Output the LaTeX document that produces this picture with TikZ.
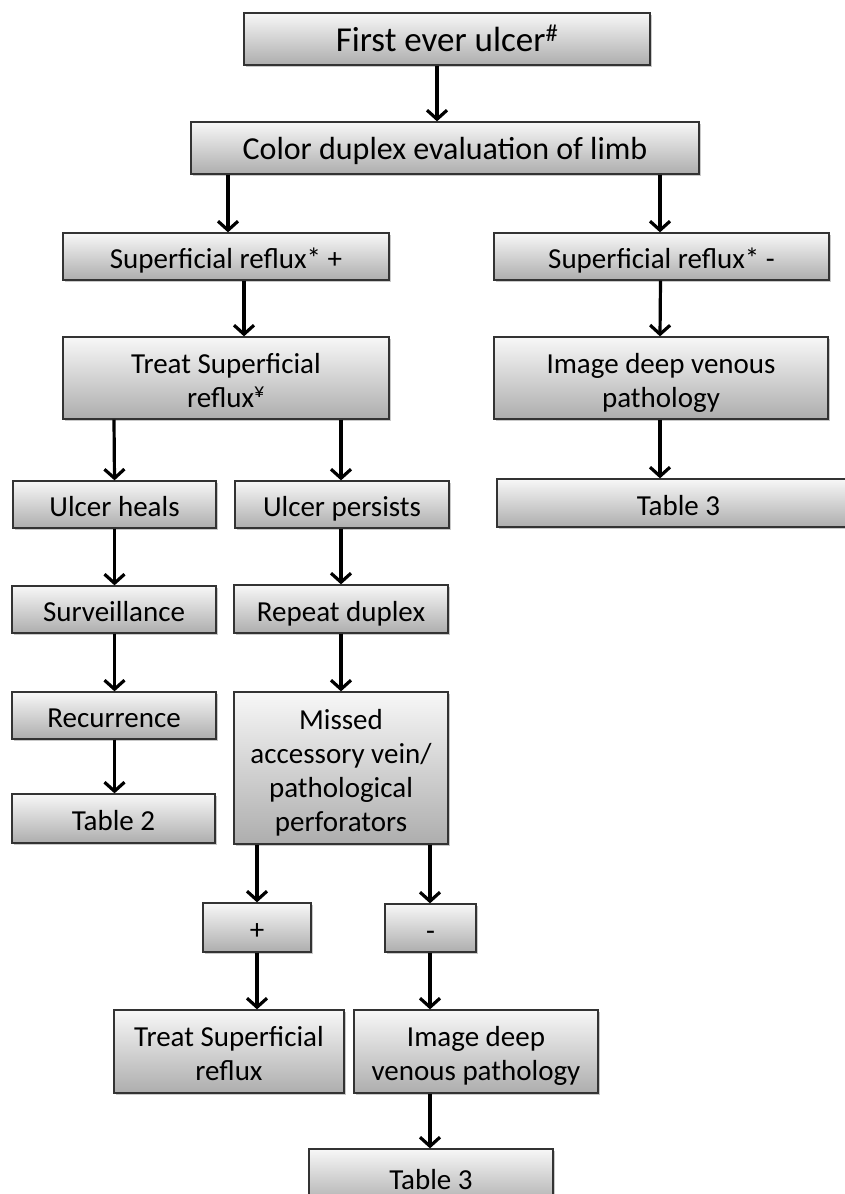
\documentclass[tikz,border=0pt]{standalone}
\usepackage{fontspec}
\setmainfont{Carlito}
\usetikzlibrary{arrows.meta,shadows}
\newcommand{\mystrut}{\rule[-5pt]{0pt}{34pt}}
\tikzset{
  box/.style={draw=black!80, line width=1.3pt, align=center, inner sep=0pt,
    top color=black!3, bottom color=black!32,
    drop shadow={shadow xshift=1.5pt, shadow yshift=-2pt, opacity=0.35, fill=black!60},
    font=\fontsize{29}{34}\selectfont},
  arr/.style={line width=3.2pt, -{Straight Barb[length=9pt,width=20pt,line width=3.2pt]}}
}
\newcommand{\bx}[7][]{\node[box, minimum width=#5pt, minimum height=#6pt, #1] (#2) at (#3,#4) {\mystrut #7\mystrut};}
\begin{document}
\begin{tikzpicture}[x=1pt,y=-1pt]
\fill[white] (0,0) rectangle (844,1194);
\useasboundingbox (0,0) rectangle (844,1194);
\bx[font=\fontsize{35}{40}\selectfont]{first}{447}{39}{406}{52}{First ever ulcer\textsuperscript{\#}}
\bx[font=\fontsize{32}{36}\selectfont]{color}{445}{148}{508}{52}{Color duplex evaluation of limb}
\bx{sp}{226}{256.5}{326}{47}{Superficial reflux* +}
\bx{sm}{661.5}{256.5}{335}{47}{Superficial reflux* -}
\bx{treat}{226}{378}{326}{82}{Treat Superficial\\reflux\textsuperscript{¥}}
\bx{imgR}{661}{378}{334}{82}{Image deep venous\\pathology}
\bx{tabR}{678.5}{503}{363}{48}{Table 3}
\bx{heal}{114.5}{504.5}{203}{47}{Ulcer heals}
\bx{pers}{342}{504.5}{214}{47}{Ulcer persists}
\bx{surv}{114}{609.5}{204}{47}{Surveillance}
\bx{rep}{341}{609}{214}{48}{Repeat duplex}
\bx{rec}{114}{715.5}{204}{47}{Recurrence}
\bx{miss}{341}{768}{214}{152}{Missed\\accessory vein/\\pathological\\perforators}
\bx{tabtwo}{113.5}{818.5}{203}{49}{Table 2}
\bx{plus}{257}{927.5}{108}{49}{+}
\bx{minus}{430.5}{928}{91}{48}{-}
\bx{treatB}{229}{1051.5}{230}{83}{Treat Superficial\\reflux}
\bx{imgB}{476}{1051.5}{244}{83}{Image deep\\venous pathology}
\bx{tabB}{431}{1177}{244}{56}{Table 3}
\draw[arr] ([xshift=-10pt]first.south) -- ([xshift=-8pt]color.north);
\draw[arr] ([xshift=-217pt]color.south) -- ([xshift=2pt]sp.north);
\draw[arr] ([xshift=215pt]color.south) -- ([xshift=-1.5pt]sm.north);
\draw[arr] ([xshift=18pt]sp.south) -- ([xshift=18pt]treat.north);
\draw[arr] ([xshift=-1pt]sm.south) -- ([xshift=-1pt]imgR.north);
\draw[arr] ([xshift=-1pt]imgR.south) -- ([xshift=-18.5pt]tabR.north);
\draw[arr] ([xshift=-112pt]treat.south) -- (heal.north);
\draw[arr] ([xshift=115pt]treat.south) -- ([xshift=-1pt]pers.north);
\draw[arr] (heal.south) -- ([xshift=0.5pt]surv.north);
\draw[arr] ([xshift=0.5pt]surv.south) -- ([xshift=0.5pt]rec.north);
\draw[arr] ([xshift=0.5pt]rec.south) -- ([xshift=1pt]tabtwo.north);
\draw[arr] ([xshift=-1pt]pers.south) -- (rep.north);
\draw[arr] (rep.south) -- (miss.north);
\draw[arr] ([xshift=-84pt]miss.south) -- (plus.north);
\draw[arr] ([xshift=89pt]miss.south) -- ([xshift=-0.5pt]minus.north);
\draw[arr] (plus.south) -- ([xshift=28pt]treatB.north);
\draw[arr] ([xshift=-0.5pt]minus.south) -- ([xshift=-46pt]imgB.north);
\draw[arr] ([xshift=-46pt]imgB.south) -- ([xshift=-1pt]tabB.north);
\end{tikzpicture}
\end{document}
